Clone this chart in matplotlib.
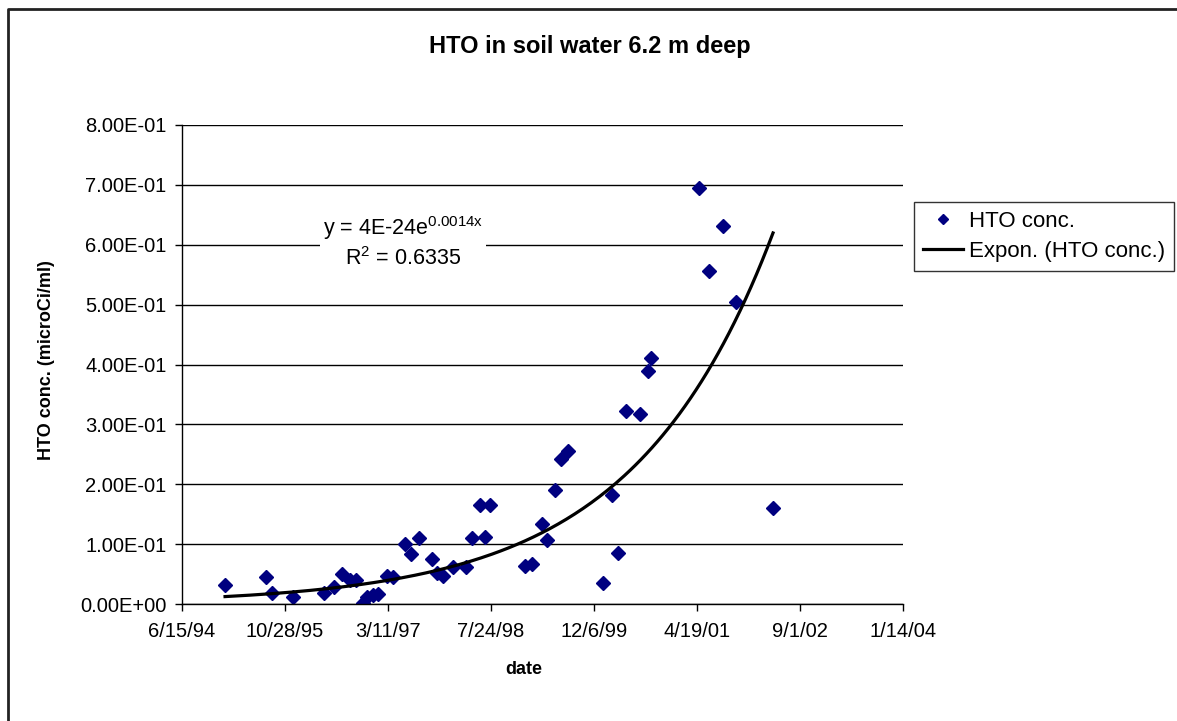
import numpy as np
import pandas as pd
import matplotlib
matplotlib.use('Agg')
import matplotlib.pyplot as plt
from matplotlib.lines import Line2D
from matplotlib.ticker import FuncFormatter, MultipleLocator

plt.rcParams['font.family'] = ['Liberation Sans', 'DejaVu Sans']
plt.rcParams['mathtext.fontset'] = 'custom'
plt.rcParams['mathtext.rm'] = 'Liberation Sans'

# sample dates as Excel serial day numbers, HTO concentration in microCi/ml
date_serial = [34709, 34906, 34935, 35037, 35189, 35236, 35277, 35316, 35343, 35377,
               35400, 35426, 35451, 35494, 35526, 35583, 35612, 35650, 35715, 35739,
               35768, 35817, 35877, 35908, 35947, 35971, 35995, 36165, 36197, 36249,
               36273, 36312, 36341, 36374, 36544, 36586, 36615, 36654, 36724, 36762,
               36778, 37011, 37058, 37128, 37191, 37369]
hto_conc = [0.032, 0.045, 0.018, 0.012, 0.018, 0.029, 0.050, 0.040, 0.040, 0.001,
            0.011, 0.015, 0.016, 0.046, 0.045, 0.100, 0.083, 0.110, 0.075, 0.052,
            0.046, 0.061, 0.061, 0.110, 0.166, 0.112, 0.166, 0.064, 0.066, 0.134,
            0.107, 0.190, 0.242, 0.255, 0.035, 0.182, 0.086, 0.322, 0.317, 0.389,
            0.411, 0.695, 0.556, 0.631, 0.505, 0.160]

x = np.array(date_serial, dtype=float)
y = np.array(hto_conc)

# exponential trendline, Excel style (least squares on ln y)
b, ln_a = np.polyfit(x, np.log(y), 1)
xt = np.linspace(x.min(), x.max(), 200)
yt = np.exp(ln_a) * np.exp(b * xt)

W, H = 1177, 721
fig = plt.figure(figsize=(W / 100, H / 100), dpi=100)
ax = fig.add_axes([182 / W, 1 - 604 / H, (903 - 182) / W, (604 - 125) / H])

ax.plot(x, y, linestyle='none', marker='D', ms=7, color='#000080', label='HTO conc.')
ax.plot(xt, yt, color='black', lw=2.3, label='Expon. (HTO conc.)')

ax.set_xlim(34500, 38000)
ax.set_ylim(0, 0.8)
ax.xaxis.set_major_locator(MultipleLocator(500))
ax.yaxis.set_major_locator(MultipleLocator(0.1))


def serial_to_label(v, pos):
    d = pd.Timestamp('1899-12-30') + pd.Timedelta(days=int(round(v)))
    return f"{d.month}/{d.day}/{d:%y}"


ax.xaxis.set_major_formatter(FuncFormatter(serial_to_label))
ax.yaxis.set_major_formatter(FuncFormatter(lambda v, pos: f"{v:.2E}"))
ax.tick_params(axis='both', direction='out', length=5, width=1, labelsize=14.5, color='black')
ax.tick_params(axis='x', pad=8)
ax.tick_params(axis='y', pad=6)

ax.grid(axis='y', color='black', lw=1)
ax.set_axisbelow(True)
for s in ['top', 'right']:
    ax.spines[s].set_visible(False)
for s in ['left', 'bottom']:
    ax.spines[s].set_color('black')
    ax.spines[s].set_linewidth(1)

fig.text(590 / W, 1 - 47 / H, 'HTO in soil water 6.2 m deep', ha='center', va='center',
         fontsize=17, fontweight='bold')
fig.text(524 / W, 1 - 670 / H, 'date', ha='center', va='center', fontsize=13, fontweight='bold')
fig.text(47 / W, 1 - 360 / H, 'HTO conc. (microCi/ml)', ha='center', va='center',
         rotation=90, fontsize=13, fontweight='bold')

fig.text(403 / W, 1 - 242 / H, 'y = 4E-24e$^{\\mathrm{0.0014x}}$\nR$^{2}$ = 0.6335', ha='center',
         va='center', fontsize=15.5, linespacing=1.3,
         bbox=dict(facecolor='white', edgecolor='none', pad=2))

leg = ax.legend(loc='upper left', bbox_to_anchor=(914 / W, 1 - 202 / H),
                bbox_transform=fig.transFigure, fontsize=16, frameon=True, fancybox=False,
                edgecolor='black', handlelength=1.8, handletextpad=0.27, borderpad=0.4,
                labelspacing=0.4, borderaxespad=0, markerscale=0.8)
leg.get_frame().set_linewidth(1)

# chart area border
fig.add_artist(Line2D([8 / W, 8 / W, 1], [0, 1 - 9 / H, 1 - 9 / H], transform=fig.transFigure,
                      color='#222222', lw=2))

fig.savefig('out.png', dpi=100)
